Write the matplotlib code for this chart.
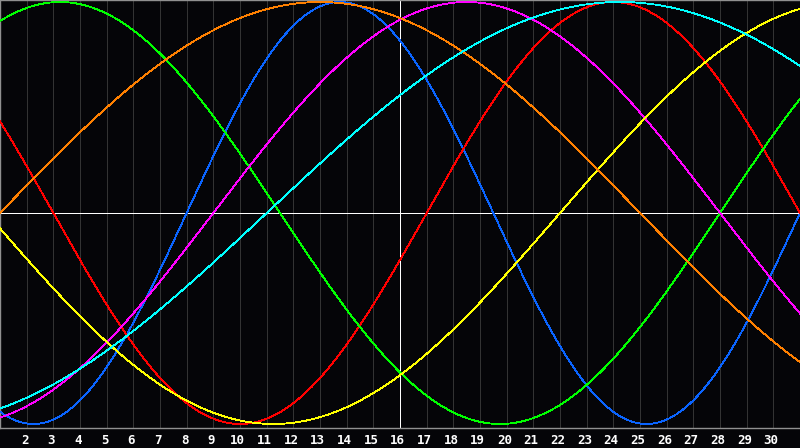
import numpy as np
import matplotlib
matplotlib.use("Agg")
from matplotlib import pyplot as plt

# biorhythm chart for one month, today = day 16
days_alive_day1 = 35712          # days since birth on day 1 of the chart
today = 16
first_day, last_day = 1, 31
tick_days = list(range(2, 31))

cycle_names = ["physical", "emotional", "intellectual", "intuition",
               "aesthetic", "awareness", "spiritual"]
cycle_periods = [23, 28, 33, 38, 43, 48, 53]
cycle_colors = ["#0a64ff", "#ff0000", "#00ff00", "#ff00ff",
                "#ffff00", "#ff8000", "#00ffff"]

bg = "#050508"

fig = plt.figure(figsize=(8, 4.48), dpi=100, facecolor=bg)
ax = fig.add_axes([0, 20 / 448, 1, 428 / 448])
ax.set_facecolor(bg)

# one sample per pixel column, like the original chart
day = np.linspace(first_day, last_day, 801)
for name, period, color in zip(cycle_names, cycle_periods, cycle_colors):
    t = days_alive_day1 + (day - first_day)
    ax.plot(day, np.sin(2 * np.pi * t / period), color=color, lw=0.6,
            antialiased=False, zorder=3, label=name)

# day grid
for d in tick_days:
    ax.axvline(d, color="#333333", lw=0.5, zorder=1, antialiased=False)
ax.axhline(0, color="white", lw=0.6, zorder=2, antialiased=False)
ax.axvline(today, color="white", lw=0.6, zorder=2, antialiased=False)

ax.set_xlim(first_day, last_day)
ax.set_ylim(-1.019, 1.0095)
ax.set_xticks([])
ax.set_yticks([])
for side in ["left", "top", "bottom"]:
    ax.spines[side].set_color("#909090")
    ax.spines[side].set_linewidth(1.0)
ax.spines["right"].set_visible(False)

for d in tick_days:
    ax.text(d - 0.08, -0.014, str(d), transform=ax.get_xaxis_transform(),
            ha="center", va="top", color="white", fontsize=9,
            fontweight="bold", family="DejaVu Sans Mono")

fig.savefig("out.png", dpi=100, facecolor=bg)
